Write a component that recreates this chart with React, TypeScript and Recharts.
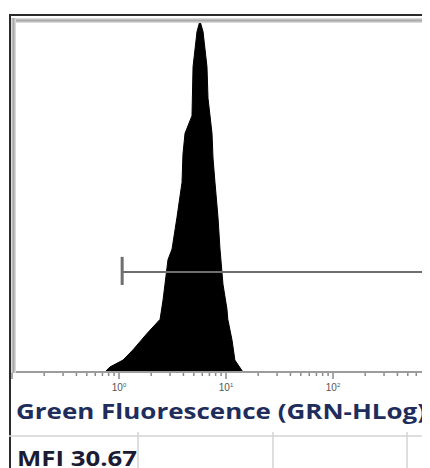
import React from "react";
import { Area, AreaChart, ReferenceLine, XAxis, YAxis } from "recharts";

// histogram: fluorescence (log channel) vs relative count
const fluorescence = [
  0.74, 0.82, 1.09, 1.35, 1.83, 2.42, 2.58, 2.69, 2.87, 3.13, 3.48, 3.88, 3.96,
  4.14, 4.81, 4.92, 5.36, 5.71, 6.1, 6.64, 6.79, 7.4, 7.56, 7.89, 8.42, 8.79,
  9.37, 10.2, 10.4, 11.4, 12.1, 14.4,
];
const counts = [
  0, 1.4, 3.4, 6.3, 11, 15, 20.5, 25, 32, 35, 44, 54, 62, 68, 73, 87, 97, 100,
  97, 87, 78, 68, 61, 54, 44, 35, 25, 18, 15, 9, 3.4, 0,
];

const majorTicks = [0.1, 1, 10, 100, 1000, 10000];
const minorSteps = [2, 3, 4, 5, 6, 7, 8, 9];

// marker (gate) drawn across the histogram
const gateRange = [1.07, 10000];
const gateLevel = 28.5;
const gateCap = [24.8, 32.8];

const title = "Green Fluorescence (GRN-HLog)";
const mfiLabel = "MFI 30.67";

const data = fluorescence.map((v, i) => ({ v, count: counts[i] }));

const allTicks: number[] = [];
majorTicks.forEach((m, i) => {
  allTicks.push(m);
  if (i < majorTicks.length - 1) minorSteps.forEach((s) => allTicks.push(m * s));
});

const LogTick = (props: any) => {
  const { x, y, payload } = props;
  const value = payload.value as number;
  const exp = Math.log10(value);
  const isMajor = Math.abs(exp - Math.round(exp)) < 1e-6;
  return (
    <g>
      <line
        x1={x}
        x2={x}
        y1={y + 1}
        y2={y + (isMajor ? 7 : 4)}
        stroke="#8a8a8a"
        strokeWidth={1.5}
      />
      {isMajor && Math.round(exp) >= 0 && (
        <text
          x={x}
          y={y + 19}
          textAnchor="middle"
          fontSize={10}
          fontFamily="Arial, sans-serif"
          fill="#555"
        >
          10
          <tspan dy={-4} fontSize={6}>
            {Math.round(exp)}
          </tspan>
        </text>
      )}
    </g>
  );
};

export default function App() {
  return (
    <div
      style={{
        position: "relative",
        width: 422,
        height: 460,
        overflow: "hidden",
        background: "#fff",
      }}
    >
      <div style={{ position: "absolute", left: 0, top: 0 }}>
        <AreaChart
          width={560}
          height={400}
          data={data}
          margin={{ top: 13, right: 21, bottom: 0, left: 4 }}
        >
          <XAxis
            dataKey="v"
            type="number"
            scale="log"
            domain={[0.1, 10000]}
            ticks={allTicks}
            interval={0}
            allowDataOverflow
            height={36}
            tickSize={0}
            tickMargin={0}
            tickLine={false}
            axisLine={{ stroke: "#9c9c9c", strokeWidth: 2 }}
            tick={<LogTick />}
          />
          <YAxis hide domain={[0, 100]} width={0} />
          <Area
            type="linear"
            dataKey="count"
            stroke="#000"
            strokeWidth={1}
            fill="#000"
            fillOpacity={1}
            isAnimationActive={false}
          />
          <ReferenceLine
            segment={[
              { x: gateRange[0], y: gateLevel },
              { x: gateRange[1], y: gateLevel },
            ]}
            stroke="#6e6e6e"
            strokeWidth={2}
          />
          <ReferenceLine
            segment={[
              { x: gateRange[0], y: gateCap[0] },
              { x: gateRange[0], y: gateCap[1] },
            ]}
            stroke="#6e6e6e"
            strokeWidth={3}
          />
        </AreaChart>
      </div>

      {/* frame lines */}
      <div style={{ position: "absolute", left: 1, top: 6, width: 430, height: 2, background: "#2b2b2b" }} />
      <div style={{ position: "absolute", left: 1, top: 6, width: 2, height: 460, background: "#2b2b2b" }} />
      <div
        style={{
          position: "absolute",
          left: 3,
          top: 10,
          width: 430,
          height: 5,
          background: "linear-gradient(#e4e4e4, #a8a8a8, #e4e4e4)",
        }}
      />
      <div
        style={{
          position: "absolute",
          left: 3,
          top: 10,
          width: 5,
          height: 355,
          background: "linear-gradient(to right, #e4e4e4, #a8a8a8, #e4e4e4)",
        }}
      />

      <svg
        width={422}
        height={460}
        style={{ position: "absolute", left: 0, top: 0, pointerEvents: "none" }}
      >
        <text
          x={8}
          y={411}
          fontFamily="'Open Sans', sans-serif"
          fontWeight={700}
          fontSize={21}
          fill="#1f2d5c"
          textLength={410}
          lengthAdjust="spacingAndGlyphs"
        >
          {title}
        </text>
        <line x1={1} x2={422} y1={428} y2={428} stroke="#d4d4d4" strokeWidth={1.5} />
        <line x1={130} x2={130} y1={424} y2={460} stroke="#d4d4d4" strokeWidth={1.5} />
        <line x1={265} x2={265} y1={424} y2={460} stroke="#d4d4d4" strokeWidth={1.5} />
        <line x1={399} x2={399} y1={424} y2={460} stroke="#d4d4d4" strokeWidth={1.5} />
        <text
          x={9}
          y={458}
          fontFamily="'Open Sans', sans-serif"
          fontWeight={700}
          fontSize={21}
          fill="#1b1b33"
          textLength={120}
          lengthAdjust="spacingAndGlyphs"
        >
          {mfiLabel}
        </text>
      </svg>
    </div>
  );
}
